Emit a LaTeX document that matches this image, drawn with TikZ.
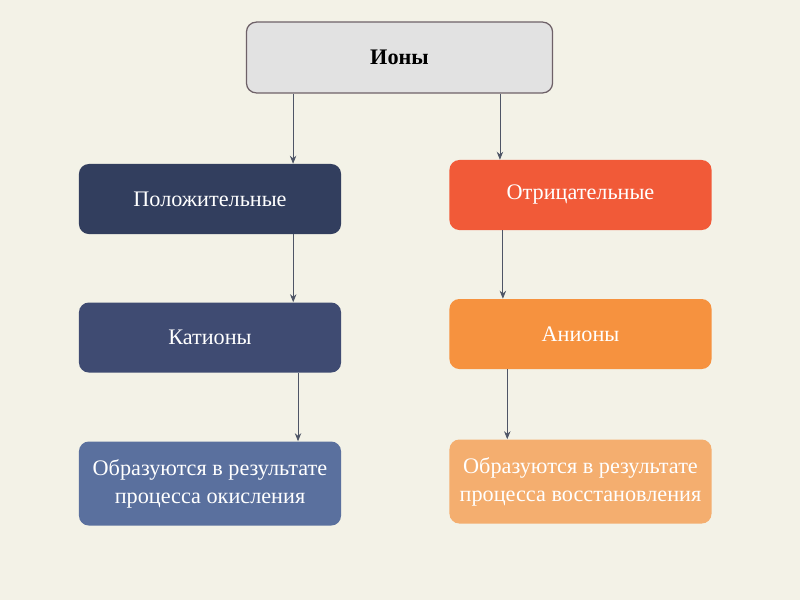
\documentclass[tikz,border=0pt]{standalone}
\usepackage{fontspec}
\setmainfont{Liberation Serif}
\usepackage{xcolor}
\usetikzlibrary{arrows.meta,positioning}
\definecolor{bgcream}{HTML}{F3F2E7}
\definecolor{topfill}{HTML}{E2E2E2}
\definecolor{topline}{HTML}{6E6168}
\definecolor{navydark}{HTML}{323E5E}
\definecolor{navymid}{HTML}{3F4B72}
\definecolor{bluelight}{HTML}{5A709E}
\definecolor{redorange}{HTML}{F15A38}
\definecolor{orangemid}{HTML}{F6923F}
\definecolor{orangelight}{HTML}{F4AE6F}
\definecolor{linegrey}{HTML}{4E5566}

\begin{document}
\begin{tikzpicture}[
  x=0.025cm, y=-0.025cm,
  font=\fontsize{15.8}{20}\selectfont,
  box/.style={rounded corners=7pt, align=center, text=white, inner sep=2pt, minimum width=6.55cm, minimum height=1.75cm},
  tallbox/.style={box, minimum height=2.1cm},
  topbox/.style={box, text=black, fill=topfill, draw=topline, line width=0.9pt, minimum width=7.65cm, minimum height=1.77cm},
  arr/.style={-{Stealth[length=2mm,width=1.6mm]}, draw=linegrey, line width=0.6pt}
]
\fill[bgcream] (0,0) rectangle (800,600);
\node[topbox] (ions) at (399.5,57.5) {\textbf{Ионы}};
\node[box, fill=navydark] (pos) at (210,199) {Положительные};
\node[box, fill=redorange] (neg) at (580.5,195) {Отрицательные};
\node[box, fill=navymid] (cat) at (210,337.5) {Катионы};
\node[box, fill=orangemid] (an) at (580.5,334) {Анионы};
\node[tallbox, fill=bluelight] (ox) at (210,483.5) {Образуются в результате\\процесса окисления};
\node[tallbox, fill=orangelight] (redu) at (580.5,481.5) {Образуются в результате\\процесса восстановления};
\draw[arr] ([xshift=-2.66cm]ions.south) -- ([xshift=-2.66cm]ions.south |- pos.north);
\draw[arr] ([xshift=2.51cm]ions.south) -- ([xshift=2.51cm]ions.south |- neg.north);
\draw[arr] ([xshift=2.08cm]pos.south) -- ([xshift=2.08cm]pos.south |- cat.north);
\draw[arr] ([xshift=-1.94cm]neg.south) -- ([xshift=-1.94cm]neg.south |- an.north);
\draw[arr] ([xshift=2.2cm]cat.south) -- ([xshift=2.2cm]cat.south |- ox.north);
\draw[arr] ([xshift=-1.83cm]an.south) -- ([xshift=-1.83cm]an.south |- redu.north);
\end{tikzpicture}
\end{document}
